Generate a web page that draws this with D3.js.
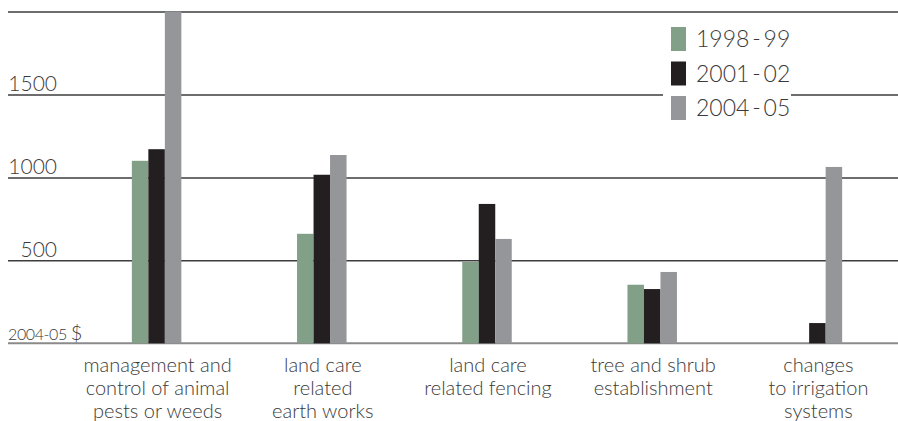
<!DOCTYPE html>
<html>
<head>
<meta charset="utf-8">
<script src="https://cdn.jsdelivr.net/npm/d3@7"></script>
<style>
  body { margin: 0; background: #fff; }
  svg { display: block; font-family: "Lato", "Noto Sans", sans-serif; }
  .grid line { stroke: #3c3c3c; stroke-width: 1.5; }
  .label { fill: #3a3a3a; }
</style>
</head>
<body>
<script>
const categories = [
  ["management and", "control of animal", "pests or weeds"],
  ["land care", "related", "earth works"],
  ["land care", "related fencing"],
  ["tree and shrub", "establishment"],
  ["changes", "to irrigation", "systems"]
];
const seriesNames = ["1998-99", "2001-02", "2004-05"];
const legendLabels = ["1998\u2009-\u200999", "2001\u2009-\u200902", "2004\u2009-\u200905"];
const values1998 = [1100, 660, 490, 353, 0];
const values2001 = [1170, 1016, 840, 327, 122];
const values2004 = [2000, 1135, 629, 430, 1063];
const yTicks = [500, 1000, 1500, 2000];
const colors = ["#829f88", "#231f20", "#95969a"];

const width = 898, height = 421;
const margin = { top: 11.5, bottom: 343.3, left: 8 };

const svg = d3.select("body").append("svg")
  .attr("width", width)
  .attr("height", height);

const y = d3.scaleLinear().domain([0, 2000]).range([margin.bottom, margin.top]);
const x0 = d3.scaleBand().domain(d3.range(categories.length)).range([74, 900]);
const x1 = d3.scaleBand().domain(seriesNames).range([0, 49.5]);

// gridlines
const yGrid = d3.axisLeft(y).tickValues(yTicks).tickSize(-(width - margin.left)).tickFormat("");
svg.append("g")
  .attr("class", "grid")
  .attr("transform", `translate(${margin.left},0)`)
  .call(yGrid)
  .call(g => g.select(".domain").remove());

// baseline
svg.append("line")
  .attr("x1", margin.left).attr("x2", width)
  .attr("y1", y(0)).attr("y2", y(0))
  .attr("stroke", "#8a8a8a").attr("stroke-width", 2);

// tick labels
svg.append("g").selectAll("text")
  .data(yTicks.filter(d => d < 2000))
  .join("text")
  .attr("class", "label")
  .attr("x", 57)
  .attr("y", d => y(d) - 3)
  .attr("text-anchor", "end")
  .attr("font-size", 21)
  .attr("font-weight", 300)
  .text(d => d);

const unit = svg.append("text")
  .attr("class", "label")
  .attr("x", margin.left)
  .attr("y", y(0) - 3.5)
  .attr("font-size", 16)
  .attr("font-weight", 300)
  .attr("letter-spacing", -0.4);
unit.append("tspan").text("2004-05 ");
unit.append("tspan").attr("font-size", 20).text("$");

// bars
const seriesData = [values1998, values2001, values2004];
const groups = svg.append("g").selectAll("g")
  .data(seriesData)
  .join("g")
  .attr("fill", (d, i) => colors[i]);

groups.selectAll("rect")
  .data((vals, si) => vals.map((v, ci) => ({ v, ci, s: seriesNames[si] })))
  .join("rect")
  .attr("x", d => x0(d.ci) + x0.bandwidth() / 2 - 24.75 + x1(d.s))
  .attr("width", x1.bandwidth())
  .attr("y", d => y(d.v))
  .attr("height", d => y(0) - y(d.v));

// category labels
svg.append("g").selectAll("text")
  .data(categories)
  .join("text")
  .attr("class", "label")
  .attr("text-anchor", "middle")
  .attr("font-size", 20)
  .attr("font-weight", 300)
  .attr("transform", (d, i) => `translate(${x0(i) + x0.bandwidth() / 2 + 1},372)`)
  .selectAll("tspan")
  .data(d => d)
  .join("tspan")
  .attr("x", 0)
  .attr("y", (d, i) => i * 23)
  .text(d => d);

// legend
const legend = svg.append("g");
legend.append("rect")
  .attr("x", 663).attr("y", 20)
  .attr("width", 128).attr("height", 110)
  .attr("fill", "#fff");

const legendItems = legend.selectAll("g.item")
  .data(legendLabels)
  .join("g")
  .attr("class", "item")
  .attr("transform", (d, i) => `translate(671,${27 + i * 34.5})`);

legendItems.append("rect")
  .attr("width", 15).attr("height", 24)
  .attr("fill", (d, i) => colors[i]);

legendItems.append("text")
  .attr("class", "label")
  .attr("x", 25)
  .attr("y", 20)
  .attr("font-size", 23)
  .attr("font-weight", 300)
  .text(d => d);
</script>
</body>
</html>
